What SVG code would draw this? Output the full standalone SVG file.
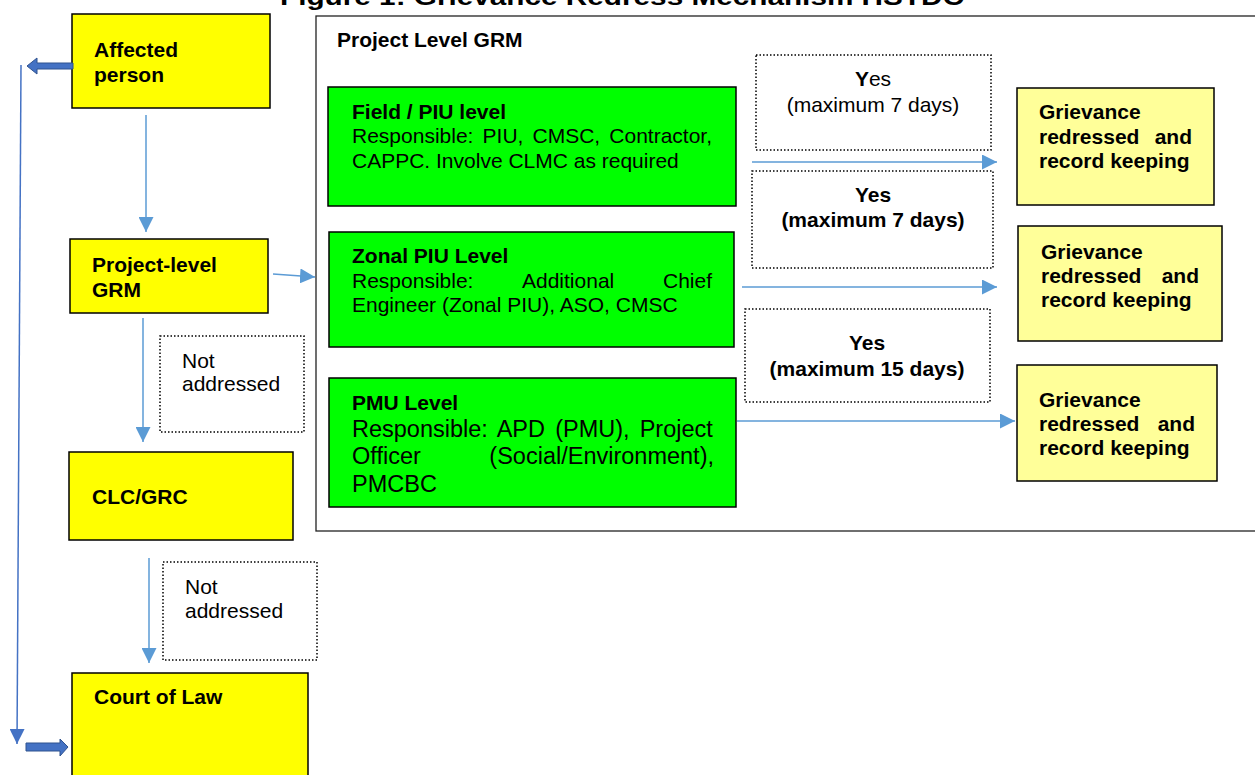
<svg xmlns="http://www.w3.org/2000/svg" width="1255" height="775" viewBox="0 0 1255 775">
<style>
text{font-family:"Liberation Sans",Arial,sans-serif;fill:#000}
.b{font-weight:bold;font-size:21px}
.r{font-size:21px}
.y{fill:#FFFF00;stroke:#000;stroke-width:1.5}
.g{fill:#00FF00;stroke:#000;stroke-width:1.5}
.ly{fill:#FFFF99;stroke:#000;stroke-width:1.5}
.dot{fill:none;stroke:#000;stroke-width:1.5;stroke-dasharray:1.5 2}
.frame{fill:none;stroke:#222;stroke-width:1.3}
.ln{fill:none;stroke:#5B9BD5;stroke-width:1.5}
.ln2{fill:none;stroke:#4472C4;stroke-width:1.5}
.blk{fill:#4472C4;stroke:#2F528F;stroke-width:1}
</style>
<defs>
<marker id="ah" markerUnits="userSpaceOnUse" markerWidth="16" markerHeight="15" refX="15" refY="7.5" orient="auto">
<path d="M0,0 L15,7.5 L0,15 z" fill="#5B9BD5"/>
</marker>
<marker id="ah2" markerUnits="userSpaceOnUse" markerWidth="16" markerHeight="15" refX="15" refY="7.5" orient="auto">
<path d="M0,0 L15,7.5 L0,15 z" fill="#4472C4"/>
</marker>
</defs>

<text id="title" x="280" y="4.5" style="font-size:24px;font-weight:bold" textLength="684" lengthAdjust="spacingAndGlyphs">Figure 1: Grievance Redress Mechanism HSTDC</text>

<g id="project-level-frame">
<rect class="frame" x="316" y="16" width="960" height="515"/>
<text class="b" x="337" y="47">Project Level GRM</text>
</g>

<g id="affected-person">
<rect class="y" x="72" y="14" width="198" height="94"/>
<text class="b" x="94" y="57">Affected</text>
<text class="b" x="94" y="82">person</text>
</g>

<g id="project-level-grm">
<rect class="y" x="70" y="239" width="198" height="74"/>
<text class="b" x="92" y="272">Project-level</text>
<text class="b" x="92" y="297">GRM</text>
</g>

<g id="not-addressed-1">
<rect class="dot" x="160" y="336" width="144" height="96"/>
<text class="r" x="182" y="368">Not</text>
<text class="r" x="182" y="391">addressed</text>
</g>

<g id="clc-grc">
<rect class="y" x="69" y="452" width="224" height="88"/>
<text class="b" x="92" y="504">CLC/GRC</text>
</g>

<g id="not-addressed-2">
<rect class="dot" x="163" y="562" width="154" height="98"/>
<text class="r" x="185" y="594">Not</text>
<text class="r" x="185" y="618">addressed</text>
</g>

<g id="court-of-law">
<rect class="y" x="72" y="673" width="236" height="110"/>
<text class="b" x="94" y="704">Court of Law</text>
</g>

<g id="field-piu">
<rect class="g" x="328" y="87" width="408" height="119"/>
<text class="b" x="352" y="119">Field / PIU level</text>
<text class="r" x="352" y="143" word-spacing="3.3">Responsible: PIU, CMSC, Contractor,</text>
<text class="r" x="352" y="168">CAPPC. Involve CLMC as required</text>
</g>

<g id="zonal-piu">
<rect class="g" x="329" y="232" width="405" height="115"/>
<text class="b" x="352" y="263">Zonal PIU Level</text>
<text class="r" x="352" y="288">Responsible:</text>
<text class="r" x="522" y="288">Additional</text>
<text class="r" x="712" y="288" text-anchor="end">Chief</text>
<text class="r" x="352" y="312">Engineer (Zonal PIU), ASO, CMSC</text>
</g>

<g id="pmu">
<rect class="g" x="329" y="378" width="407" height="129"/>
<text class="b" x="352" y="410">PMU Level</text>
<text x="352" y="437" style="font-size:23.5px" word-spacing="3.6">Responsible: APD (PMU), Project</text>
<text x="352" y="464" style="font-size:23.5px">Officer</text>
<text x="714" y="464" style="font-size:23.5px" text-anchor="end">(Social/Environment),</text>
<text x="352" y="492" style="font-size:23.5px">PMCBC</text>
</g>

<g id="yes-1">
<rect class="dot" x="756" y="55" width="235" height="95"/>
<text class="r" x="873" y="86" text-anchor="middle"><tspan font-weight="bold">Y</tspan>es</text>
<text class="r" x="873" y="112" text-anchor="middle">(maximum 7 days)</text>
</g>

<g id="yes-2">
<rect class="dot" x="752" y="171" width="241" height="97"/>
<text class="b" x="873" y="202" text-anchor="middle">Yes</text>
<text class="b" x="873" y="227" text-anchor="middle">(maximum 7 days)</text>
</g>

<g id="yes-3">
<rect class="dot" x="745" y="309" width="245" height="93"/>
<text class="b" x="867" y="350" text-anchor="middle">Yes</text>
<text class="b" x="867" y="376" text-anchor="middle">(maximum 15 days)</text>
</g>

<g id="grievance-1">
<rect class="ly" x="1017" y="88" width="197" height="117"/>
<text class="b" x="1039" y="119">Grievance</text>
<text class="b" x="1039" y="144">redressed</text>
<text class="b" x="1192" y="144" text-anchor="end">and</text>
<text class="b" x="1039" y="168">record keeping</text>
</g>

<g id="grievance-2">
<rect class="ly" x="1018" y="226" width="204" height="115"/>
<text class="b" x="1041" y="259">Grievance</text>
<text class="b" x="1041" y="283">redressed</text>
<text class="b" x="1199" y="283" text-anchor="end">and</text>
<text class="b" x="1041" y="307">record keeping</text>
</g>

<g id="grievance-3">
<rect class="ly" x="1017" y="365" width="200" height="116"/>
<text class="b" x="1039" y="407">Grievance</text>
<text class="b" x="1039" y="431">redressed</text>
<text class="b" x="1195" y="431" text-anchor="end">and</text>
<text class="b" x="1039" y="455">record keeping</text>
</g>

<g id="connectors">
<line class="ln" x1="146" y1="115" x2="146" y2="232" marker-end="url(#ah)"/>
<line class="ln" x1="273" y1="274" x2="315" y2="277" marker-end="url(#ah)"/>
<line class="ln" x1="143" y1="318" x2="143" y2="442" marker-end="url(#ah)"/>
<line class="ln" x1="149" y1="558" x2="149" y2="663" marker-end="url(#ah)"/>
<line class="ln" x1="752" y1="162" x2="997" y2="162" marker-end="url(#ah)"/>
<line class="ln" x1="742" y1="287" x2="997" y2="287" marker-end="url(#ah)"/>
<line class="ln" x1="737" y1="421" x2="1015" y2="421" marker-end="url(#ah)"/>
<line class="ln2" x1="21" y1="65" x2="17" y2="744" marker-end="url(#ah2)"/>
<polygon class="blk" points="27,66 37,58 37,63 73,63 73,69 37,69 37,74"/>
<polygon class="blk" points="68,747 60,739 60,743 26,743 26,751 60,751 60,756"/>
</g>
</svg>
